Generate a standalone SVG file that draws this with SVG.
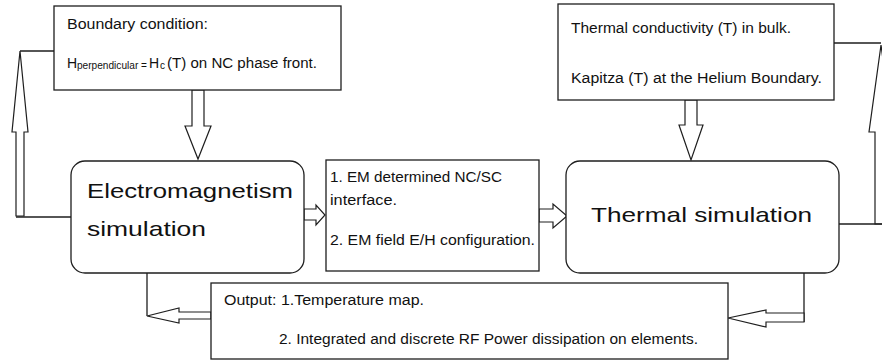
<svg xmlns="http://www.w3.org/2000/svg" width="882" height="362" viewBox="0 0 882 362">
<style>
.box{fill:#fff;stroke:#1e1e1e;stroke-width:1.3}
.ln{fill:none;stroke:#1e1e1e;stroke-width:1.3}
.ar{fill:#fff;stroke:#1e1e1e;stroke-width:1.2;stroke-linejoin:miter}
text{font-family:"Liberation Sans",Arial,sans-serif;fill:#111}
.s{font-size:14px}
.b{font-size:21px}
.sub{font-size:10px}
</style>
<rect width="882" height="362" fill="#fff"/>
<g id="connectors">
  <polyline class="ln" points="20,51 54,51"/>
  <polygon class="ar" points="16,216 16,132 12,132 20,51 28,132 24,132 24,216"/>
  <polyline class="ln" points="16,217 71,217"/>
  <polygon class="ar" points="192,90 192,126 185,126 198,159 211,126 204,126 204,90"/>
  <polygon class="ar" points="685,100 685,125 679,125 691,160 703,125 697,125 697,100"/>
  <polyline class="ln" points="834,43 881,43"/>
  <polygon class="ar" points="881,45 869,132 875,132 875,224 887,224 887,132 893,132"/>
  <polyline class="ln" points="839,224 882,224"/>
  <polygon class="ar" points="304,209 316,209 316,205 325,215 316,225 316,220 304,220"/>
  <polygon class="ar" points="539,209 553,209 553,204 567,216 553,228 553,222 539,222"/>
  <polyline class="ln" points="147,273 147,316"/>
  <polygon class="ar" points="211,312 179,312 179,308 147,316 179,323 179,319 211,319"/>
  <polyline class="ln" points="804,273 804,322"/>
  <polygon class="ar" points="804,313 766,313 766,310 728,318 766,327 766,322 804,322"/>
</g>
<g id="boundary">
  <rect class="box" x="54" y="6" width="287" height="84"/>
  <text class="s" x="67" y="29" textLength="141" lengthAdjust="spacingAndGlyphs">Boundary condition:</text>
  <text class="s" x="67" y="68">H</text>
  <text class="sub" x="77" y="69" textLength="70" lengthAdjust="spacingAndGlyphs">perpendicular =</text>
  <text class="s" x="149" y="68">H</text>
  <text class="sub" x="160" y="69">c</text>
  <text class="s" x="167" y="68" textLength="150" lengthAdjust="spacingAndGlyphs">(T) on NC phase front.</text>
</g>
<g id="thermal-props">
  <rect class="box" x="558" y="4" width="276" height="96"/>
  <text class="s" x="571" y="33" textLength="220" lengthAdjust="spacingAndGlyphs">Thermal conductivity (T) in bulk.</text>
  <text class="s" x="571" y="83" textLength="251" lengthAdjust="spacingAndGlyphs">Kapitza (T) at the Helium Boundary.</text>
</g>
<g id="em-sim">
  <rect class="box" x="71" y="161" width="233" height="112" rx="14"/>
  <text class="b" x="87" y="198" textLength="206" lengthAdjust="spacingAndGlyphs">Electromagnetism</text>
  <text class="b" x="87" y="236" textLength="119" lengthAdjust="spacingAndGlyphs">simulation</text>
</g>
<g id="em-results">
  <rect class="box" x="326" y="160" width="213" height="111"/>
  <text class="s" x="330" y="182" textLength="172" lengthAdjust="spacingAndGlyphs">1. EM determined NC/SC</text>
  <text class="s" x="330" y="205" textLength="67" lengthAdjust="spacingAndGlyphs">interface.</text>
  <text class="s" x="330" y="245" textLength="205" lengthAdjust="spacingAndGlyphs">2. EM field E/H configuration.</text>
</g>
<g id="thermal-sim">
  <rect class="box" x="566" y="161" width="273" height="112" rx="14"/>
  <text class="b" x="591" y="222" textLength="221" lengthAdjust="spacingAndGlyphs">Thermal simulation</text>
</g>
<g id="output">
  <rect class="box" x="211" y="283" width="517" height="76"/>
  <text class="s" x="224" y="305" textLength="200" lengthAdjust="spacingAndGlyphs">Output: 1.Temperature map.</text>
  <text class="s" x="279" y="344" textLength="419" lengthAdjust="spacingAndGlyphs">2. Integrated and discrete RF Power dissipation on elements.</text>
</g>
</svg>
